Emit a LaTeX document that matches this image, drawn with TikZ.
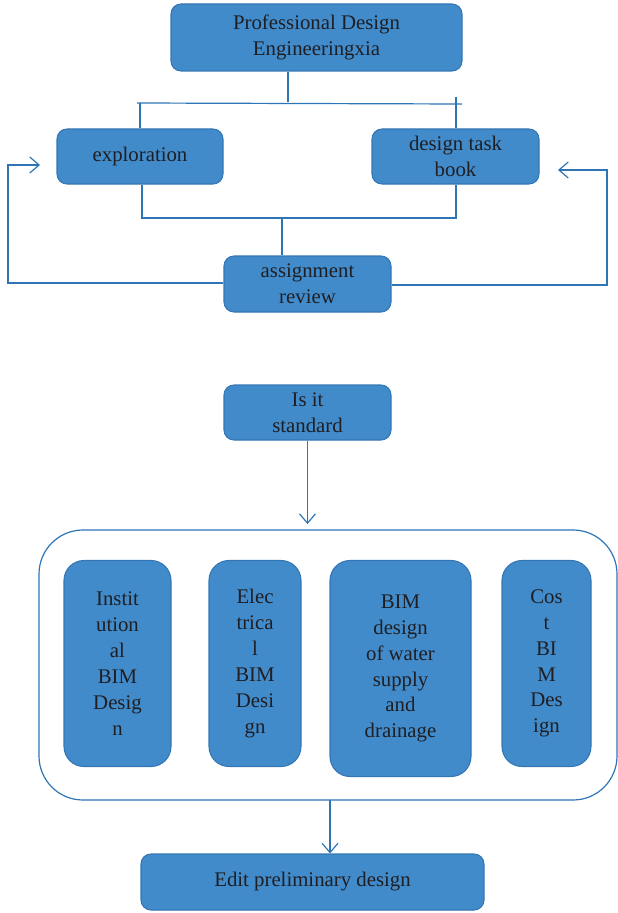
\documentclass[tikz,border=0pt]{standalone}
\usepackage{fontspec}
\setmainfont{Liberation Serif}
\usetikzlibrary{arrows.meta}
\definecolor{boxfill}{RGB}{66,139,202}
\definecolor{boxline}{RGB}{52,118,180}
\definecolor{wire}{RGB}{46,117,182}
\definecolor{txt}{RGB}{30,30,35}
\tikzset{
  sz/.style 2 args={minimum width=#1*0.75pt, minimum height=#2*0.75pt},
  blk/.style={draw=boxline, fill=boxfill, line width=0.8pt, rounded corners=7.5pt,
    inner sep=0pt, align=center, text=txt, font=\fontsize{15.6}{19.4}\selectfont},
  tall/.style={blk, rounded corners=15pt},
  wire/.style={draw=wire, line width=0.9pt},
  arr/.style={wire, -{Straight Barb[length=7pt, width=12pt, line width=0.9pt]}}
}
\begin{document}
\begin{tikzpicture}[x=0.75pt, y=-0.75pt]
\useasboundingbox (0,0) rectangle (617,913);
% main boxes
\node[blk, sz={291}{67}] (top) at (316.5,37.5) {Professional Design\\Engineeringxia};
\node[blk, sz={166}{55}] (expl) at (140,156.5) {exploration};
\node[blk, sz={167}{55}] (task) at (455.5,156.5) {design task\\book};
\node[blk, sz={167}{56}] (assign) at (307.5,284) {assignment\\review};
\node[blk, sz={167}{55}] (std) at (307.5,412.5) {Is it\\standard};
% container
\node[draw=wire, line width=0.9pt, rounded corners=33pt, sz={578}{270}] (cont) at (328,665) {};
% inner boxes
\node[tall, sz={107}{206}] (inst) at (117.5,663.5) {Instit\\ution\\al\\BIM\\Desig\\n};
\node[tall, sz={92}{206}] (elec) at (255,663.5) {Elec\\trica\\l\\BIM\\Desi\\gn};
\node[tall, sz={141}{216}] (water) at (400.5,668.5) {BIM\\design\\of water\\supply\\and\\drainage};
\node[tall, sz={89}{206}] (cost) at (546.5,663.5) {Cos\\t\\BI\\M\\Des\\ign};
\node[blk, sz={343}{56}] (edit) at (312.5,882) {Edit preliminary design};
% top bracket
\coordinate (jt) at (288,102);
\draw[wire] (top.south -| jt) -- (jt);
\draw[wire] (137,103) -- (462,104);
\coordinate (jl) at (140,103);
\coordinate (jr) at (456,97);
\draw[wire] (jl) -- (jl |- expl.north);
\draw[wire] (jr) -- (jr |- task.north);
% bottom bracket
\coordinate (bl) at (142,218);
\coordinate (br) at (456,218);
\coordinate (bc) at (282,218);
\draw[wire] (bl |- expl.south) -- (bl) -- (br) -- (br |- task.south);
\draw[wire] (bc) -- (bc |- assign.north);
% feedback loops
\coordinate (ll) at (8,283);
\coordinate (lu) at (8,165);
\coordinate (le) at (40,165);
\draw[arr] (assign.west |- ll) -- (ll) -- (lu) -- (le);
\coordinate (rl) at (607,285);
\coordinate (ru) at (607,170);
\coordinate (re) at (558,170);
\draw[arr] (assign.east |- rl) -- (rl) -- (ru) -- (re);
% arrows
\draw[arr, shorten >=4pt] (std.south) -- (cont.north -| std.south);
\coordinate (ce) at (330,800);
\draw[arr] (ce) -- (ce |- edit.north);
\end{tikzpicture}
\end{document}
